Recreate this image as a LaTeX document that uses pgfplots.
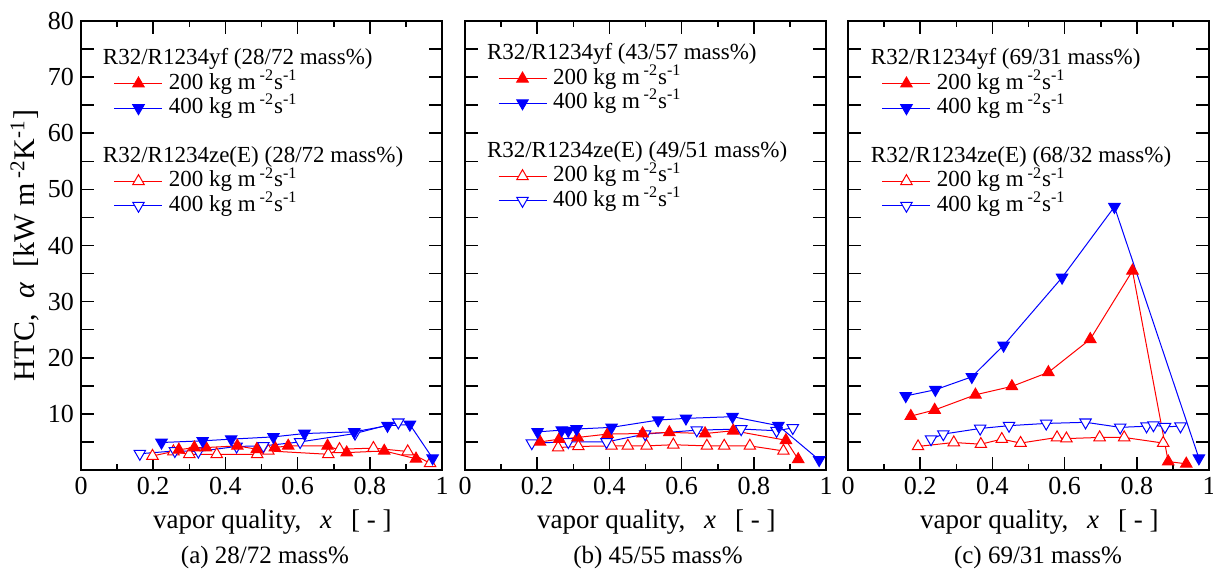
\documentclass[border=0pt]{standalone}
\usepackage{fontspec}
\setmainfont{Liberation Serif}
\usepackage{pgfplots}
\pgfplotsset{compat=1.18}

% series styles
\pgfplotsset{
  ya200/.style={red, line width=0.5pt, mark=triangle*, mark size=3.3pt, mark options={solid, fill=red}},
  ya400/.style={blue, line width=0.5pt, mark=triangle*, mark size=3.3pt, mark options={solid, fill=blue, rotate=180}},
  ze200/.style={red, line width=0.5pt, mark=triangle*, mark size=3.3pt, mark options={solid, fill=white}},
  ze400/.style={blue, line width=0.5pt, mark=triangle*, mark size=3.3pt, mark options={solid, fill=white, rotate=180}},
  panel/.style={
    scale only axis, width=180.5pt, height=224.5pt, anchor=south west,
    xmin=0, xmax=1, ymin=0, ymax=80,
    xtick={0,0.2,0.4,0.6,0.8,1}, minor xtick={0.1,0.3,0.5,0.7,0.9},
    ytick={10,20,...,80}, extra y ticks={5,15,...,75}, extra y tick labels={},
    tick align=inside, major tick length=6.5pt, minor tick length=3pt,
    axis line style={line width=1pt}, tick style={line width=0.8pt, black},
    /pgf/number format/assume math mode=true,
    ticklabel style={font=\fontsize{13}{13}\selectfont},
    xlabel={vapor quality,\hspace{0.7em}\textit{x}\hspace{0.7em}[ - ]},
    xlabel style={font=\fontsize{13.5}{13.5}\selectfont, at={(axis description cs:0.53,-0.116)}, anchor=center},
    legend cell align=left,
    legend style={draw=none, fill=none, inner sep=0pt, outer sep=0pt, anchor=north west,
      font=\fontsize{11.5}{11.5}\selectfont, column sep=2.5pt,
      nodes={text height=8.4pt, text depth=2.8pt, inner sep=0.5pt}},
    legend image code/.code={\draw[mark repeat=2,mark phase=2,##1] plot coordinates {(0pt,0pt) (12pt,0pt) (24pt,0pt)};},
  },
}
\newcommand{\flux}[1]{#1 kg m\,\textsuperscript{-2}s\textsuperscript{-1}}
\newcommand{\legendrows}[2]{%
  \addlegendimage{empty legend}\addlegendentry{\hspace*{-33pt}R32/R1234yf (#1 mass\%)}
  \addlegendimage{ya200}\addlegendentry{\flux{200}}
  \addlegendimage{ya400}\addlegendentry{\flux{400}}
  \addlegendimage{empty legend}\addlegendentry{\ }
  \addlegendimage{empty legend}\addlegendentry{\hspace*{-33pt}R32/R1234ze(E) (#2 mass\%)}
  \addlegendimage{ze200}\addlegendentry{\flux{200}}
  \addlegendimage{ze400}\addlegendentry{\flux{400}}
}

\begin{document}
\begin{tikzpicture}
\path[use as bounding box] (0,0) rectangle (606.5pt,287pt);

% (a) 28/72 mass%
\begin{axis}[panel, at={(40.5pt,52pt)},
  ylabel={HTC,\hspace{0.5em}{\itshape α}\hspace{0.5em}[kW m\,\textsuperscript{-2}K\textsuperscript{-1}]},
  ylabel style={font=\fontsize{15}{15}\selectfont, at={(axis description cs:-0.155,0.5)}, anchor=center},
  legend style={at={(0.0914,0.942)}}]
\legendrows{28/72}{28/72}
\addplot[ze200, forget plot] coordinates {(0.198,2.5)(0.256,3.3)(0.300,2.8)(0.376,2.8)(0.488,2.8)(0.519,3.4)(0.685,2.8)(0.716,3.7)(0.810,3.9)(0.905,3.3)(0.967,1.2)};
\addplot[ze400, forget plot] coordinates {(0.163,2.9)(0.260,3.4)(0.325,3.3)(0.431,4.2)(0.505,4.3)(0.607,5.0)(0.759,6.5)(0.879,8.5)};
\addplot[ya200, forget plot] coordinates {(0.271,3.6)(0.314,4.0)(0.346,4.0)(0.433,4.3)(0.487,3.7)(0.537,4.0)(0.574,4.3)(0.683,4.3)(0.736,3.1)(0.840,3.4)(0.928,2.0)};
\addplot[ya400, forget plot] coordinates {(0.223,4.9)(0.337,5.2)(0.416,5.5)(0.533,5.9)(0.619,6.5)(0.757,6.8)(0.849,7.9)(0.911,8.1)(0.974,2.1)};
\end{axis}

% (b) 45/55 mass%
\begin{axis}[panel, at={(232.5pt,52pt)}, yticklabels={},
  legend style={at={(0.0914,0.953)}}]
\legendrows{43/57}{49/51}
\addplot[ze200, forget plot] coordinates {(0.258,4.0)(0.314,4.2)(0.406,4.3)(0.451,4.3)(0.503,4.3)(0.577,4.5)(0.670,4.3)(0.718,4.3)(0.789,4.3)(0.882,3.4)};
\addplot[ze400, forget plot] coordinates {(0.185,4.8)(0.286,5.0)(0.392,5.0)(0.499,6.4)(0.642,7.1)(0.765,7.3)(0.863,7.0)(0.908,7.5)};
\addplot[ya200, forget plot] coordinates {(0.208,5.0)(0.261,5.5)(0.312,5.8)(0.395,6.4)(0.492,6.5)(0.566,6.7)(0.665,6.5)(0.743,7.0)(0.889,5.3)(0.923,1.9)};
\addplot[ya400, forget plot] coordinates {(0.201,6.8)(0.268,7.1)(0.286,7.0)(0.309,7.3)(0.406,7.6)(0.535,8.9)(0.612,9.2)(0.741,9.5)(0.868,7.9)(0.981,1.8)};
\end{axis}

% (c) 69/31 mass%
\begin{axis}[panel, at={(424pt,52pt)}, yticklabels={},
  legend style={at={(0.094,0.942)}}]
\legendrows{69/31}{68/32}
\addplot[ze200, forget plot] coordinates {(0.194,4.2)(0.293,4.9)(0.368,4.6)(0.426,5.5)(0.478,4.8)(0.579,5.8)(0.605,5.6)(0.697,5.8)(0.765,5.8)(0.873,4.8)};
\addplot[ze400, forget plot] coordinates {(0.230,5.5)(0.264,6.4)(0.366,7.4)(0.446,7.9)(0.549,8.3)(0.658,8.5)(0.754,7.6)(0.827,7.8)(0.846,8.0)(0.878,7.7)(0.921,7.8)};
\addplot[ya200, forget plot] coordinates {(0.174,9.6)(0.240,10.7)(0.353,13.4)(0.454,14.9)(0.555,17.4)(0.671,23.3)(0.788,35.5)(0.887,1.5)(0.937,1.1)};
\addplot[ya400, forget plot] coordinates {(0.160,13.2)(0.242,14.3)(0.343,16.6)(0.431,22.2)(0.593,34.3)(0.738,46.9)(0.972,2.1)};
\end{axis}

\node[font=\fontsize{12.5}{12.5}\selectfont] at (132.5pt,8.5pt) {(a) 28/72 mass\%};
\node[font=\fontsize{12.5}{12.5}\selectfont] at (329pt,8.5pt) {(b) 45/55 mass\%};
\node[font=\fontsize{12.5}{12.5}\selectfont] at (519pt,8.5pt) {(c) 69/31 mass\%};
\end{tikzpicture}
\end{document}
